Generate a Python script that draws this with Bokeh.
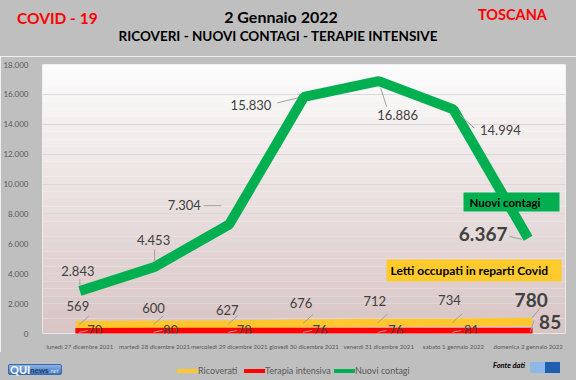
from bokeh.plotting import figure
from bokeh.layouts import column
from bokeh.models import (ColumnDataSource, FactorRange, FixedTicker, BoxAnnotation,
                          Label, Range1d, Div)
from bokeh.core.properties import value
from bokeh.transform import dodge
from bokeh.embed import file_html
from bokeh.resources import INLINE

# ---------------- data ----------------
days = ["lunedì 27 dicembre 2021", "martedì 28 dicembre 2021", "mercoledì 29 dicembre 2021",
        "giovedì 30 dicembre 2021", "venerdì 31 dicembre 2021", "sabato 1 gennaio 2022",
        "domenica 2 gennaio 2022"]
nuovi_contagi = [2843, 4453, 7304, 15830, 16886, 14994, 6367]
ricoverati = [569, 600, 627, 676, 712, 734, 780]
terapia_intensiva = [70, 80, 78, 76, 76, 81, 85]
y_ticks = [0, 2000, 4000, 6000, 8000, 10000, 12000, 14000, 16000, 18000]
y_tick_labels = ["0", "2.000", "4.000", "6.000", "8.000", "10.000", "12.000", "14.000", "16.000", "18.000"]
series_names = ["Ricoverati", "Terapia intensiva", "Nuovi contagi"]

FONT = "Lato"
GREEN = "#00B050"
YELLOW = "#FFC72C"
RED = "#FF0000"
GRAYBG = "#BFBFBF"
LBL = "#404040"
W = 576
FRAME_W, FRAME_H = 529, 274
YMAX = 18000


def it(v):
    return f"{v:,}".replace(",", ".")


def span(text, left, top, size, color, weight="bold", style="normal", lh=None, extra=""):
    lh = lh or size + 4
    return (f'<span style="position:absolute;left:{left}px;top:{top - lh / 2}px;'
            f'line-height:{lh}px;font-size:{size}px;color:{color};font-weight:{weight};'
            f'font-style:{style};white-space:nowrap;{extra}">{text}</span>')


def center_span(text, cx, top, size, color, lh=None):
    lh = lh or size + 4
    return (f'<span style="position:absolute;left:{cx - 250}px;width:500px;text-align:center;'
            f'top:{top - lh / 2}px;line-height:{lh}px;font-size:{size}px;color:{color};'
            f'font-weight:bold;white-space:nowrap;">{text}</span>')


# ---------------- header ----------------
head_html = (f'<div style="position:relative;width:{W}px;height:56px;background:{GRAYBG};'
             f'font-family:{FONT};overflow:hidden;">'
             + span("COVID - 19", 17, 19, 15.5, RED)
             + span("TOSCANA", 478, 15, 14.5, RED)
             + center_span("2 Gennaio 2022", 281, 17, 16, "#000000")
             + center_span("RICOVERI - NUOVI CONTAGI - TERAPIE INTENSIVE", 278, 37, 13.5, "#000000")
             + '</div>')
head = Div(text=head_html, width=W, height=56, margin=0)

# ---------------- main chart ----------------
p = figure(width=W, height=296, x_range=FactorRange(*days, range_padding=0),
           y_range=Range1d(0, YMAX), output_backend="svg", toolbar_location=None,
           min_border_left=36, min_border_right=11, min_border_top=8, min_border_bottom=14)
p.border_fill_color = GRAYBG
p.background_fill_color = "#FFFFFF"
p.outline_line_color = None

# gradient background of the plot area
top_c = (252, 252, 252)
bot_c = (216, 196, 196)
nb = 36
for i in range(nb):
    f = (i + 0.5) / nb
    c = tuple(int(round(bot_c[k] + (top_c[k] - bot_c[k]) * f)) for k in range(3))
    p.add_layout(BoxAnnotation(bottom=YMAX * i / nb, top=YMAX * (i + 1) / nb,
                               fill_color="#%02x%02x%02x" % c, fill_alpha=1,
                               line_color=None, level="image"))

p.yaxis.ticker = FixedTicker(ticks=y_ticks)
p.yaxis.major_label_overrides = dict(zip(y_ticks, y_tick_labels))
p.yaxis.axis_line_color = None
p.yaxis.major_tick_line_color = None
p.yaxis.minor_tick_line_color = None
p.yaxis.major_label_standoff = 8
p.yaxis.major_label_text_font = FONT
p.yaxis.major_label_text_font_size = "8px"
p.yaxis.major_label_text_color = "#595959"

p.xaxis.axis_line_color = None
p.xaxis.major_tick_line_color = None
p.xaxis.major_label_standoff = 3
p.xaxis.major_label_text_font = FONT
p.xaxis.major_label_text_font_size = "6.1px"
p.xaxis.major_label_text_color = "#595959"

p.xgrid.grid_line_color = None
p.ygrid.grid_line_color = "#D9D9D9"
p.ygrid.grid_line_width = 1

src = ColumnDataSource(dict(day=days, nc=nuovi_contagi, ric=ricoverati, ti=terapia_intensiva))
p.line("day", "ric", source=src, line_color=YELLOW, line_width=8, line_cap="square")
p.line("day", "ti", source=src, line_color=RED, line_width=9, line_cap="square")
p.line("day", "nc", source=src, line_color=GREEN, line_width=10)

# ---- leader lines (offsets in pixels: dx right, dy down) ----
CATPX = FRAME_W / len(days)      # pixels per category
YPX = YMAX / FRAME_H             # data units per pixel


def leaders(vals, idx, x0px, y0px, x1px, y1px):
    s = ColumnDataSource(dict(day=[days[i] for i in idx],
                              y0=[vals[i] - y0px * YPX for i in idx],
                              y1=[vals[i] - y1px * YPX for i in idx]))
    p.segment(x0=dodge("day", x0px / CATPX, range=p.x_range), y0="y0",
              x1=dodge("day", x1px / CATPX, range=p.x_range), y1="y1",
              source=s, line_color="#A0A0A0", line_width=1)


all6 = list(range(6))
leaders(ricoverati, all6, -1, 0, 9, -9)
leaders(terapia_intensiva, all6, -1, 0, 8, -2)
nc_leaders = [(0, -6, 0, -12), (0, -5, 0, -18), (-26, -19, -8, -19), (-27, 6, -6, 1),
              (8, 26, 2, 7), (21, 19, 6, 5)]
for i, (a, b, c2, d) in enumerate(nc_leaders):
    leaders(nuovi_contagi, [i], a, b, c2, d)
leaders(nuovi_contagi, [6], -19, -2, -6, 1)
leaders(ricoverati, [6], 12, -14, 4, -4)
leaders(terapia_intensiva, [6], 6, -12, 2, 0)

# ---- data labels (offsets in pixels) ----
nc_dx = [-2, -1, -45, -53, 19, 47]
nc_dy = [-20, -27, -19, 8, 34, 21]
ric_dx = [-2, -1, -2, -3, -4, -4]
ric_dy = [-19, -17, -14, -20, -22, -23]
ti_dx = [15, 16, 15, 16, 17, 18]
ti_dy = [-2, -2, -2, -2, -2, -2]

vals = nuovi_contagi[:-1] + ricoverati[:-1] + terapia_intensiva[:-1]
lsrc = ColumnDataSource(dict(x=days[:-1] * 3, y=vals, t=[it(v) for v in vals],
                             dx=nc_dx + ric_dx + ti_dx, dy=nc_dy + ric_dy + ti_dy))
p.text("x", "y", text="t", source=lsrc, x_offset="dx", y_offset="dy",
       text_font=value(FONT), text_font_size="13px", text_color=LBL,
       text_align="center", text_baseline="middle")

lv = [nuovi_contagi[-1], ricoverati[-1], terapia_intensiva[-1]]
last = ColumnDataSource(dict(x=[days[-1]] * 3, y=lv, t=[it(v) for v in lv],
                             dx=[-45, 3, 22], dy=[-4, -22, -10]))
p.text("x", "y", text="t", source=last, x_offset="dx", y_offset="dy",
       text_font=value(FONT), text_font_size="19px", text_font_style="bold", text_color=LBL,
       text_align="center", text_baseline="middle")

# callout boxes (screen units relative to plot frame)
p.add_layout(BoxAnnotation(left=421, right=517, bottom=122, top=141,
                           left_units="screen", right_units="screen",
                           top_units="screen", bottom_units="screen",
                           fill_color=GREEN, fill_alpha=1, line_color=None))
p.add_layout(Label(x=427, y=131, x_units="screen", y_units="screen", text="Nuovi contagi",
                   text_font=FONT, text_font_size="11.5px", text_font_style="bold",
                   text_color="#000000", text_baseline="middle"))
p.add_layout(BoxAnnotation(left=344, right=519, bottom=52, top=74,
                           left_units="screen", right_units="screen",
                           top_units="screen", bottom_units="screen",
                           fill_color="#FFCA2B", fill_alpha=1, line_color=None))
p.add_layout(Label(x=348, y=63, x_units="screen", y_units="screen",
                   text="Letti occupati in reparti Covid",
                   text_font=FONT, text_font_size="12px", text_font_style="bold",
                   text_color="#000000", text_baseline="middle"))

# ---------------- footer (coordinates relative to footer top = page y 352) ----------------
sw_left = [177, 244, 334]
sw_colors = [YELLOW, RED, GREEN]
legend_html = ""
for name, lft, col in zip(series_names, sw_left, sw_colors):
    legend_html += (f'<span style="position:absolute;left:{lft}px;top:17px;width:21px;'
                    f'height:3.5px;background:{col};"></span>')
    legend_html += span(name, lft + 21, 18.5, 9, "#595959", weight="normal", lh=12)

foot_html = (f'<div style="position:relative;width:{W}px;height:28px;background:{GRAYBG};'
             f'font-family:{FONT};overflow:hidden;">'
             '<span style="position:absolute;left:8px;top:12px;width:54px;height:11px;'
             'background:linear-gradient(#8DB4E6,#3F74BE);border:1px solid #3A6AAA;'
             'border-radius:2px;box-sizing:border-box;"></span>'
             + span("QUI", 10, 17.5, 11, "#FFFFFF", lh=12)
             + span("news", 30, 18, 8, "#1F3F73", lh=10)
             + span(".net", 49, 18.5, 6, "#DDE8F7", weight="normal", style="italic", lh=8)
             + span("Fonte dati", 493, 14, 7.5, "#000000", style="italic", lh=10)
             + '<span style="position:absolute;left:530px;top:10px;width:15px;height:11px;'
               'background:#8FB8E8;"></span>'
             + '<span style="position:absolute;left:545px;top:10px;width:15px;height:11px;'
               'background:#1F5FAF;"></span>'
             + legend_html
             + '</div>')
foot = Div(text=foot_html, width=W, height=28, margin=0)

layout = column(head, p, foot, spacing=0)
html = file_html(layout, INLINE)
html = html.replace("<body>", '<body style="margin:0;background:#BFBFBF">', 1)
open("out.html", "w").write(html)
